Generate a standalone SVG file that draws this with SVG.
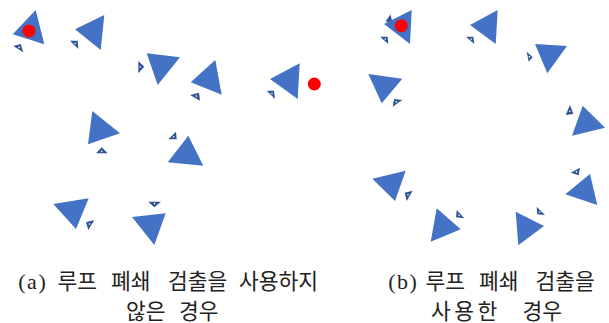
<svg xmlns="http://www.w3.org/2000/svg" width="609" height="323" viewBox="0 0 609 323">
<style>
.t{fill:#4472C4}
.s{fill:#2F5597}
.h{fill:#ffffff}
.r{fill:#FF0000}
.lbl{font-family:"Liberation Serif","Noto Sans CJK KR",serif;font-size:21.5px;fill:#222222}
.p{font-size:22px;letter-spacing:1.5px}
</style>
<rect width="609" height="323" fill="#ffffff"/>
<g id="panel-a">
<polygon class="s" points="13.3,46 20.7,44 23.3,52.3"/><circle class="h" cx="19.1" cy="47.4" r="0.8"/>
<polygon class="t" points="35.7,10 12.7,34.3 44.3,44.3"/>
<circle class="r" cx="29" cy="31" r="6.5"/>
<polygon class="s" points="70,40.7 77.7,40.7 78.3,49"/><circle class="h" cx="75.3" cy="43.5" r="0.8"/>
<polygon class="t" points="104.3,15 75,29.3 100.7,50"/>
<polygon class="s" points="138.3,61 144.3,66.7 138.3,73.3"/><circle class="h" cx="140.3" cy="67" r="0.8"/>
<polygon class="t" points="146.7,53.3 180,57.3 157.7,85"/>
<polygon class="s" points="190,95 199,92.7 200,100.7"/><circle class="h" cx="196.3" cy="96.1" r="0.8"/>
<polygon class="t" points="215.3,60 190.7,82.3 221.7,94.7"/>
<polygon class="t" points="92.3,111 120,133.3 88,144.3"/>
<polygon class="s" points="96,153.3 101.7,147.3 107.7,153.3"/><circle class="h" cx="101.8" cy="151.3" r="0.8"/>
<polygon class="s" points="168.3,139.3 176,131.7 176.7,139.3"/><circle class="h" cx="173.7" cy="136.8" r="0.8"/>
<polygon class="t" points="188.3,135.7 203.3,165.7 167.7,162.3"/>
<polygon class="t" points="53.3,204 88.7,198.3 76,229"/>
<polygon class="s" points="86,222.3 94.3,220 88.3,230"/><circle class="h" cx="89.5" cy="224.1" r="0.8"/>
<polygon class="s" points="148.3,201.7 161,201.7 154.3,207.3"/><circle class="h" cx="154.5" cy="203.6" r="0.8"/>
<polygon class="t" points="132,217 165.7,213.3 154.3,245"/>
<polygon class="s" points="266.7,90.7 274,90.7 275,99"/><circle class="h" cx="271.9" cy="93.5" r="0.8"/>
<polygon class="t" points="299.7,63.3 270,79 297.7,99"/>
<circle class="r" cx="314.3" cy="84" r="6.5"/>
</g>
<g id="panel-b">
<polygon class="s" points="385.5,21.5 390.5,14.5 392.5,22.5"/>
<polygon class="s" points="380,36.7 387.7,36.7 388.3,44"/><circle class="h" cx="385.3" cy="39.1" r="0.8"/>
<polygon class="t" points="411.7,10 384,24 410,44"/>
<circle class="r" cx="401.3" cy="25.7" r="6.5"/>
<polygon class="s" points="466,36.7 473.3,36.7 474.3,44"/><circle class="h" cx="471.2" cy="39.1" r="0.8"/>
<polygon class="t" points="497.7,10 470,25 495.7,44"/>
<polygon class="s" points="526.7,51.7 532.7,57.3 528.7,61.7"/><circle class="h" cx="529.4" cy="56.9" r="0.8"/>
<polygon class="t" points="535,44 567,46 547.3,73.3"/>
<polygon class="t" points="368.3,74 402.3,78.7 381.7,103.3"/>
<polygon class="s" points="392.7,106.7 394,99 402.3,100"/><circle class="h" cx="396.3" cy="101.9" r="0.8"/>
<polygon class="s" points="565.7,115 570,105 573.3,114"/><circle class="h" cx="569.7" cy="111.3" r="0.8"/>
<polygon class="t" points="582.7,105.7 605,127.7 572,135.7"/>
<polygon class="t" points="372.3,178.7 405.7,170.7 395,201"/>
<polygon class="s" points="404.7,192.7 412.7,190.7 406.7,201"/><circle class="h" cx="408" cy="194.8" r="0.8"/>
<polygon class="t" points="436.7,208.3 460.7,229.3 430.7,241.7"/>
<polygon class="s" points="456.7,210 464.3,218.3 456,217.3"/><circle class="h" cx="459" cy="215.2" r="0.8"/>
<polygon class="t" points="515.7,211.7 544,226 518.3,245.3"/>
<polygon class="s" points="536.7,206.7 545,215 537.3,214.3"/><circle class="h" cx="539.7" cy="212" r="0.8"/>
<polygon class="s" points="570.7,172.7 580,167.7 578.7,175.3"/><circle class="h" cx="576.5" cy="171.9" r="0.8"/>
<polygon class="t" points="590,174 597.3,205 565.3,194.3"/>
</g>
<g id="labels">
<text class="lbl" y="289"><tspan class="p" x="18.3">(a)</tspan> <tspan x="57.5">루프</tspan> <tspan x="111">폐쇄</tspan> <tspan x="168">검출을</tspan> <tspan x="239">사용하지</tspan></text>
<text class="lbl" y="319"><tspan x="126">않은</tspan> <tspan x="179">경우</tspan></text>
<text class="lbl" y="289"><tspan class="p" x="388.3">(b)</tspan> <tspan x="425.5">루프</tspan> <tspan x="479">폐쇄</tspan> <tspan x="535.5">검출을</tspan></text>
<text class="lbl" y="319"><tspan x="431" style="letter-spacing:3.5px">사용한</tspan> <tspan x="522.5">경우</tspan></text>
</g>
</svg>
